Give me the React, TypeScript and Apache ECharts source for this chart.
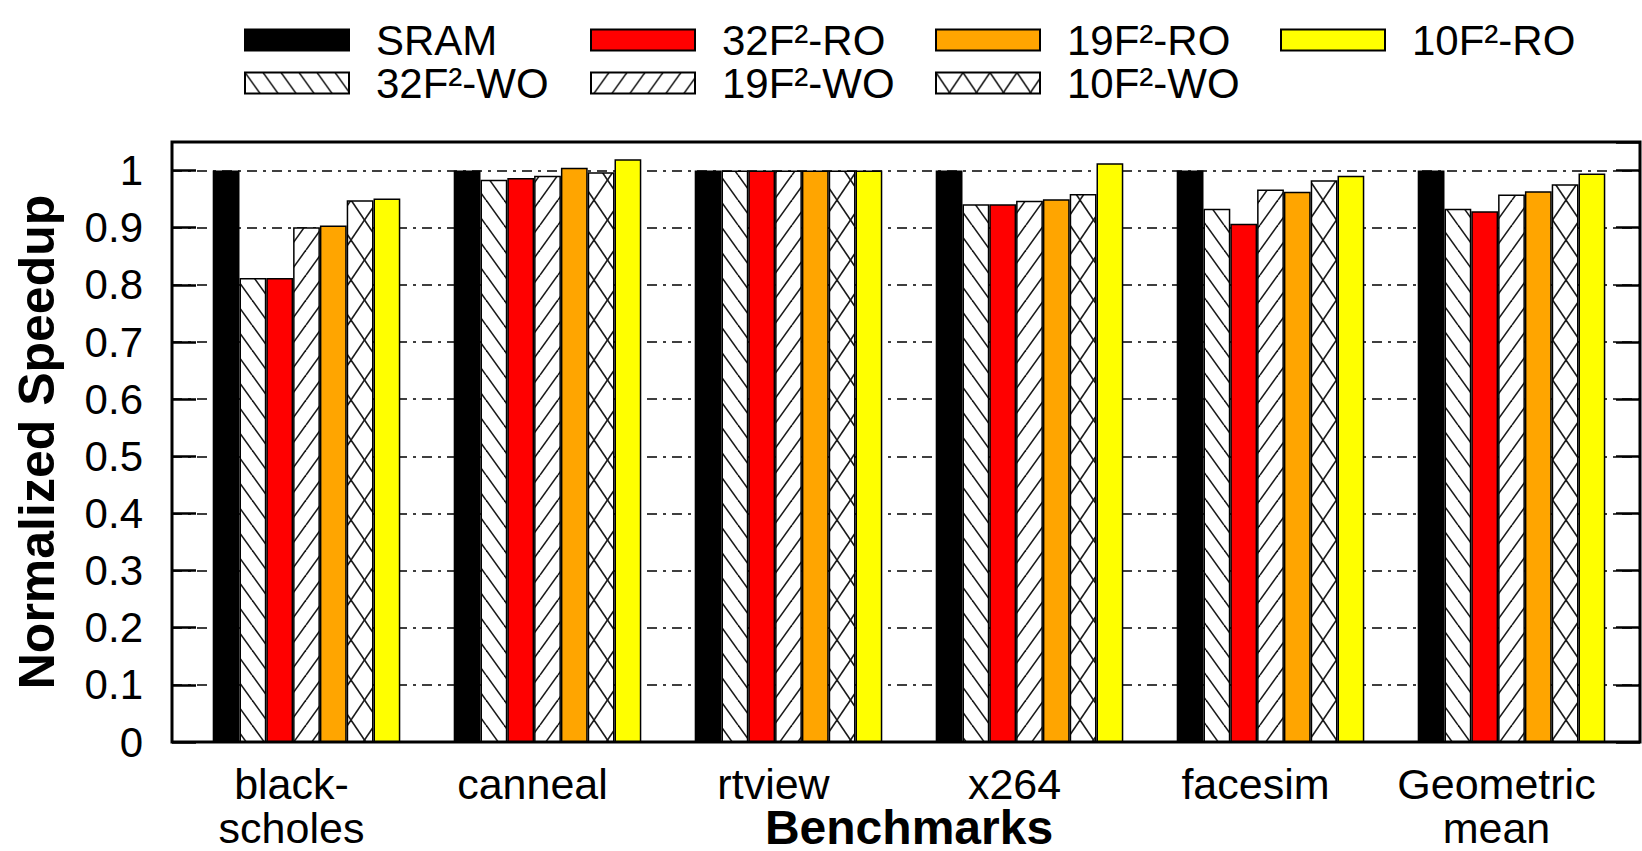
import React, { useEffect, useRef } from 'react';
import * as echarts from 'echarts';

const categories = ['black-\nscholes', 'canneal', 'rtview', 'x264', 'facesim', 'Geometric\nmean'];
const seriesNames = ['SRAM', '32F²-WO', '32F²-RO', '19F²-WO', '19F²-RO', '10F²-WO', '10F²-RO'];
const sram = [1.0, 1.0, 1.0, 1.0, 1.0, 1.0];
const wo32 = [0.812, 0.984, 1.0, 0.941, 0.933, 0.933];
const ro32 = [0.812, 0.987, 1.0, 0.941, 0.907, 0.929];
const wo19 = [0.901, 0.991, 1.0, 0.947, 0.967, 0.958];
const ro19 = [0.904, 1.005, 1.0, 0.95, 0.963, 0.964];
const wo10 = [0.948, 0.997, 1.0, 0.959, 0.983, 0.976];
const ro10 = [0.951, 1.02, 1.0, 1.013, 0.991, 0.995];
const seriesValues = [sram, wo32, ro32, wo19, ro19, wo10, ro10];
const yTickLabels = ['0', '0.1', '0.2', '0.3', '0.4', '0.5', '0.6', '0.7', '0.8', '0.9', '1'];

const FONT = 'Liberation Sans, Arial, Helvetica, sans-serif';

function makeHatch(kind: 'back' | 'fwd' | 'cross', w: number, h: number) {
  const c = document.createElement('canvas');
  c.width = w;
  c.height = h;
  const ctx = c.getContext('2d')!;
  ctx.fillStyle = '#ffffff';
  ctx.fillRect(0, 0, w, h);
  ctx.strokeStyle = '#1a1a1a';
  ctx.lineWidth = 1.6;
  const line = (x0: number, y0: number, x1: number, y1: number) => {
    for (const dx of [-w, 0, w]) {
      ctx.beginPath();
      ctx.moveTo(x0 + dx, y0);
      ctx.lineTo(x1 + dx, y1);
      ctx.stroke();
    }
  };
  if (kind === 'back' || kind === 'cross') line(0, 0, w, h);
  if (kind === 'fwd' || kind === 'cross') line(0, h, w, 0);
  return { image: c, imageWidth: w, imageHeight: h, repeat: 'repeat' };
}

export default function App() {
  const ref = useRef<HTMLDivElement>(null);
  useEffect(() => {
    if (!ref.current) return;
    const chart = echarts.init(ref.current, undefined, { renderer: 'svg' });
    const fills: any[] = [
      '#000000',
      makeHatch('back', 18, 25),
      '#ff0000',
      makeHatch('fwd', 18, 25),
      '#ffa500',
      makeHatch('cross', 27, 40),
      '#ffff00',
    ];
    const legendLeft = [244, 244, 590, 590, 935, 935, 1280];
    const legendTop = [19, 62, 19, 62, 19, 62, 19];

    const option: any = {
      animation: false,
      backgroundColor: '#ffffff',
      grid: [
        {
          left: 172, top: 142, width: 1468, height: 600, show: true, borderColor: '#000', borderWidth: 3,
          backgroundColor: 'transparent', containLabel: false, outerBoundsMode: 'none',
        },
        { left: 186, top: 142, width: 1446, height: 600, containLabel: false, outerBoundsMode: 'none' },
      ],
      legend: seriesNames.map((n, i) => ({
        data: [n],
        left: legendLeft[i],
        top: legendTop[i],
        padding: 0,
        itemWidth: 104,
        itemHeight: 21,
        icon: 'rect',
        selectedMode: false,
        itemStyle: { borderColor: '#000', borderWidth: 2 },
        textStyle: { fontSize: 42, fontFamily: FONT, color: '#000', lineHeight: 40, padding: [0, 0, 0, 22] },
      })),
      xAxis: [
        { type: 'value', gridIndex: 0, min: 0, max: 1, show: false },
        {
          type: 'category',
          gridIndex: 1,
          data: categories,
          axisLine: { show: false },
          axisTick: { show: false },
          axisLabel: {
            interval: 0,
            fontSize: 43,
            lineHeight: 44,
            fontFamily: FONT,
            color: '#000',
            margin: 20,
            padding: [0, 30, 0, 0],
          },
          name: 'Benchmarks',
          nameLocation: 'middle',
          nameGap: 68,
          nameMoveOverlap: false,
          nameTextStyle: { fontSize: 48, fontWeight: 'bold', fontFamily: FONT, color: '#000', lineHeight: 34 },
        },
      ],
      yAxis: [
        {
          type: 'value',
          gridIndex: 0,
          min: 0,
          max: 1.05,
          interval: 0.1,
          axisLine: { show: false },
          axisTick: { show: true, inside: true, length: 24, lineStyle: { color: '#000', width: 2.5 } },
          axisLabel: {
            fontSize: 42,
            fontFamily: FONT,
            color: '#000',
            margin: 29,
            showMaxLabel: false,
            formatter: (v: number) => {
              const idx = Math.round(v * 10);
              return Math.abs(v - idx / 10) < 1e-6 && idx <= 10 ? yTickLabels[idx] : '';
            },
          },
          splitLine: { show: true, lineStyle: { color: '#000', width: 1.5, type: [10, 6, 3, 6] } },
          name: 'Normalized Speedup',
          nameLocation: 'middle',
          nameGap: 110,
          nameMoveOverlap: false,
          nameTextStyle: { fontSize: 50, fontWeight: 'bold', fontFamily: FONT, color: '#000' },
        },
        {
          type: 'value',
          gridIndex: 0,
          position: 'right',
          min: 0,
          max: 1.05,
          interval: 0.1,
          axisLine: { show: false },
          axisTick: { show: true, inside: true, length: 24, lineStyle: { color: '#000', width: 2.5 } },
          axisLabel: { show: false },
          splitLine: { show: false },
        },
        { type: 'value', gridIndex: 1, min: 0, max: 1.05, show: false },
      ],
      series: seriesNames.map((n, i) => ({
        type: 'bar',
        name: n,
        xAxisIndex: 1,
        yAxisIndex: 2,
        data: seriesValues[i],
        barWidth: 26.8,
        barGap: '0%',
        itemStyle: { color: fills[i], borderColor: '#000', borderWidth: 1.5 },
      })),
    };
    chart.setOption(option);
    return () => chart.dispose();
  }, []);
  return <div ref={ref} style={{ position: 'absolute', left: 0, top: 0, width: 1642, height: 851 }} />;
}
